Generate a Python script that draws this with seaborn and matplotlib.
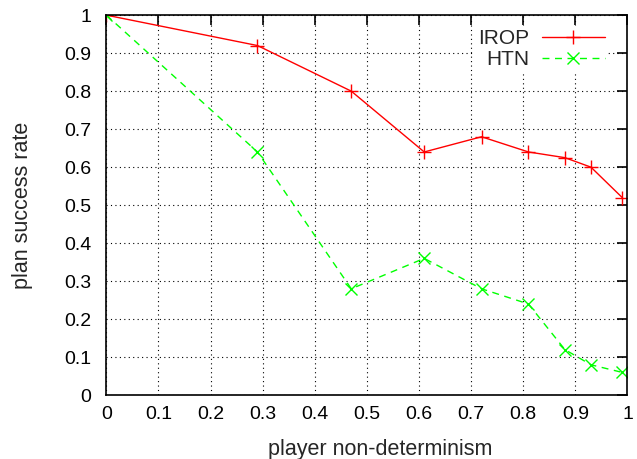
import numpy as np
import pandas as pd
import matplotlib
matplotlib.use("Agg")
import matplotlib.pyplot as plt
import seaborn as sns
from matplotlib.ticker import FormatStrFormatter

# player non-determinism values
irop_x = [0.0, 0.29, 0.47, 0.61, 0.72, 0.81, 0.88, 0.93, 0.99]
irop_y = [1.0, 0.92, 0.80, 0.64, 0.68, 0.64, 0.625, 0.60, 0.52]

htn_x = [0.0, 0.29, 0.47, 0.61, 0.72, 0.81, 0.88, 0.93, 0.99]
htn_y = [1.0, 0.64, 0.28, 0.36, 0.28, 0.24, 0.12, 0.08, 0.06]

x_ticks = [0, 0.1, 0.2, 0.3, 0.4, 0.5, 0.6, 0.7, 0.8, 0.9, 1]
y_ticks = [0, 0.1, 0.2, 0.3, 0.4, 0.5, 0.6, 0.7, 0.8, 0.9, 1]

sns.set_style("white")
plt.rcParams['font.family'] = ['Liberation Sans', 'DejaVu Sans']

fig = plt.figure(figsize=(6.37, 4.59), dpi=100)
ax = fig.add_axes([0.167, 0.139, 0.818, 0.828])

sns.lineplot(x=irop_x, y=irop_y, ax=ax, color='#ff0000', linewidth=1.0,
             marker='+', markersize=10, markeredgewidth=1.0,
             markeredgecolor='#ff0000', label='IROP',
             estimator=None, sort=False)
sns.lineplot(x=htn_x, y=htn_y, ax=ax, color='#00ff00', linewidth=1.0,
             linestyle=(0, (5, 4)), marker='x', markersize=9, markeredgewidth=1.0,
             markeredgecolor='#00ff00', label='HTN', estimator=None, sort=False)

ax.set_xlim(0, 1)
ax.set_ylim(0, 1)
ax.set_xticks(x_ticks)
ax.set_yticks(y_ticks)
ax.xaxis.set_major_formatter(FormatStrFormatter('%g'))
ax.yaxis.set_major_formatter(FormatStrFormatter('%g'))
ax.tick_params(direction='in', length=7, width=1.2, top=True, right=True,
               labelsize=14, colors='black')
ax.tick_params(axis='x', pad=8)
ax.tick_params(axis='y', pad=11)
ax.grid(True, color='black', linestyle=(0, (1, 3)), linewidth=0.8)
for s in ax.spines.values():
    s.set_color('black')
    s.set_linewidth(1.2)

ax.set_xlabel('player non-determinism', fontsize=15.5)
ax.xaxis.set_label_coords(0.525, -0.143, transform=ax.transAxes)
ax.xaxis.label.set_va('center')
ax.set_ylabel('plan success rate', fontsize=15.5, labelpad=22)

leg = ax.legend(loc='upper right', frameon=True, markerfirst=False,
                fontsize=15, handlelength=3.0, handletextpad=0.6,
                borderaxespad=0.0, labelspacing=0.1, borderpad=0.15,
                fancybox=False, bbox_to_anchor=(0.962, 0.972))
leg.get_frame().set_facecolor('white')
leg.get_frame().set_edgecolor('none')
leg.get_frame().set_alpha(1.0)

fig.savefig('out.png', dpi=100)
